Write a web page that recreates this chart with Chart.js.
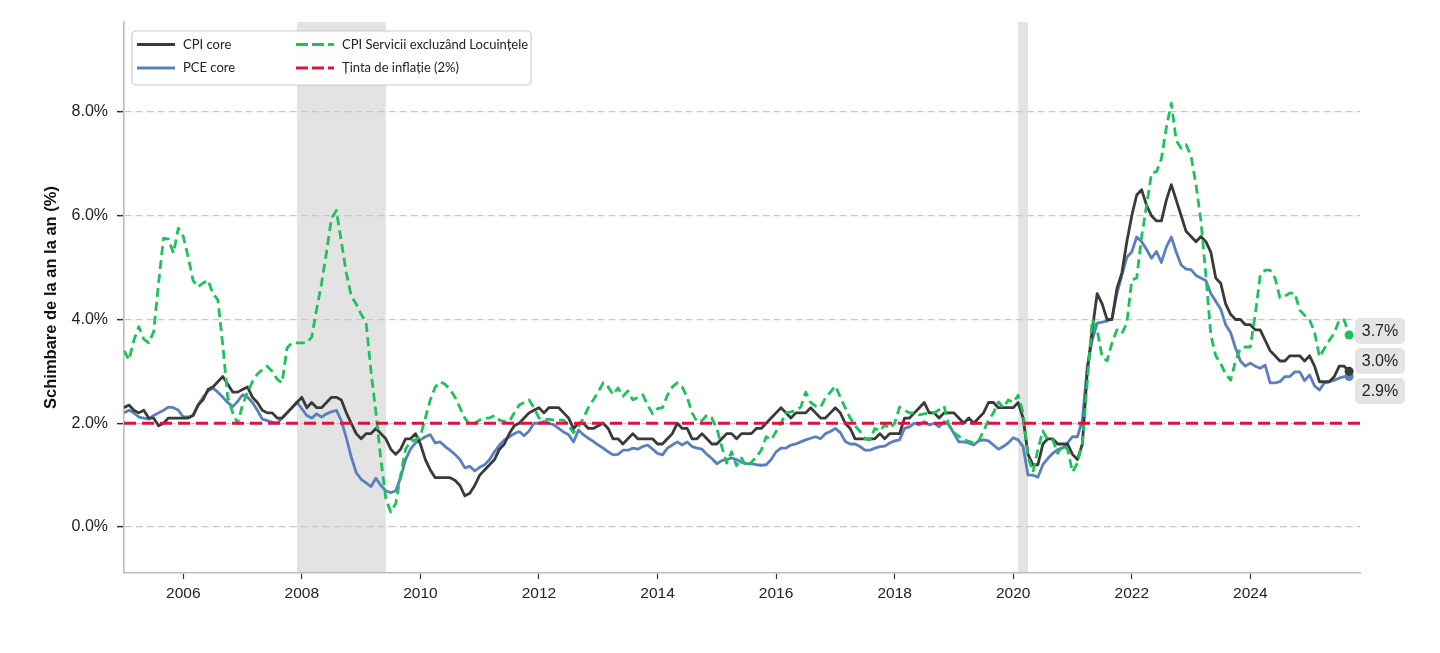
<!DOCTYPE html>
<html>
<head>
<meta charset="utf-8">
<script src="https://cdn.jsdelivr.net/npm/chart.js@4.4.1/dist/chart.umd.min.js"></script>
<style>
  html, body { margin: 0; padding: 0; background: #fff; }
  #wrap { width: 1440px; height: 653px; }
</style>
</head>
<body>
<div id="wrap"><canvas id="chart" width="1440" height="653"></canvas></div>
<script>
// monthly series, first value = January 2005
const START_YEAR = 2005;

const cpiCore = [
  2.3, 2.35, 2.25, 2.2, 2.25, 2.1, 2.1, 1.95, 2.0, 2.1, 2.1, 2.1,       // 2005
  2.1, 2.1, 2.15, 2.35, 2.45, 2.65, 2.7, 2.8, 2.9, 2.75, 2.6, 2.6,      // 2006
  2.65, 2.7, 2.5, 2.4, 2.25, 2.2, 2.2, 2.1, 2.1, 2.2, 2.3, 2.4,         // 2007
  2.5, 2.3, 2.4, 2.3, 2.3, 2.4, 2.5, 2.5, 2.45, 2.2, 2.0, 1.8,          // 2008
  1.7, 1.8, 1.8, 1.9, 1.8, 1.7, 1.5, 1.4, 1.5, 1.7, 1.7, 1.8,           // 2009
  1.6, 1.3, 1.1, 0.95, 0.95, 0.95, 0.95, 0.9, 0.8, 0.6, 0.65, 0.8,      // 2010
  1.0, 1.1, 1.2, 1.3, 1.5, 1.6, 1.8, 1.95, 2.0, 2.1, 2.2, 2.25,         // 2011
  2.3, 2.2, 2.3, 2.3, 2.3, 2.2, 2.1, 1.9, 2.0, 2.0, 1.9, 1.9,           // 2012
  1.95, 2.0, 1.9, 1.7, 1.7, 1.6, 1.7, 1.8, 1.7, 1.7, 1.7, 1.7,          // 2013
  1.6, 1.6, 1.7, 1.8, 2.0, 1.9, 1.9, 1.7, 1.7, 1.8, 1.7, 1.6,           // 2014
  1.6, 1.7, 1.8, 1.8, 1.7, 1.8, 1.8, 1.8, 1.9, 1.9, 2.0, 2.1,           // 2015
  2.2, 2.3, 2.2, 2.1, 2.2, 2.2, 2.2, 2.3, 2.2, 2.1, 2.1, 2.2,           // 2016
  2.3, 2.2, 2.0, 1.9, 1.7, 1.7, 1.7, 1.7, 1.7, 1.8, 1.7, 1.8,           // 2017
  1.8, 1.8, 2.1, 2.1, 2.2, 2.3, 2.4, 2.2, 2.2, 2.1, 2.2, 2.2,           // 2018
  2.2, 2.1, 2.0, 2.1, 2.0, 2.1, 2.2, 2.4, 2.4, 2.3, 2.3, 2.3,           // 2019
  2.3, 2.4, 2.1, 1.4, 1.2, 1.2, 1.6, 1.7, 1.7, 1.6, 1.6, 1.6,           // 2020
  1.4, 1.3, 1.6, 3.0, 3.8, 4.5, 4.3, 4.0, 4.0, 4.6, 4.9, 5.5,           // 2021
  6.0, 6.4, 6.5, 6.2, 6.0, 5.9, 5.9, 6.3, 6.6, 6.3, 6.0, 5.7,           // 2022
  5.6, 5.5, 5.6, 5.5, 5.3, 4.8, 4.7, 4.3, 4.1, 4.0, 4.0, 3.9,           // 2023
  3.9, 3.8, 3.8, 3.6, 3.4, 3.3, 3.2, 3.2, 3.3, 3.3, 3.3, 3.2,           // 2024
  3.3, 3.1, 2.8, 2.8, 2.8, 2.9, 3.1, 3.1, 3.0                           // 2025
];

const pceCore = [
  2.2, 2.25, 2.2, 2.12, 2.1, 2.08, 2.15, 2.2, 2.25, 2.31, 2.3, 2.25,    // 2005
  2.12, 2.12, 2.15, 2.35, 2.5, 2.62, 2.68, 2.6, 2.5, 2.4, 2.32, 2.42,   // 2006
  2.55, 2.5, 2.4, 2.25, 2.08, 2.05, 2.02, 2.0, 2.1, 2.2, 2.3, 2.41,     // 2007
  2.28, 2.15, 2.1, 2.18, 2.12, 2.18, 2.22, 2.25, 2.05, 1.72, 1.35, 1.05,// 2008
  0.92, 0.85, 0.78, 0.94, 0.8, 0.7, 0.66, 0.7, 0.95, 1.3, 1.5, 1.62,    // 2009
  1.68, 1.74, 1.78, 1.62, 1.64, 1.55, 1.48, 1.4, 1.3, 1.14, 1.17, 1.08, // 2010
  1.15, 1.2, 1.3, 1.45, 1.58, 1.68, 1.74, 1.8, 1.84, 1.76, 1.85, 2.0,   // 2011
  2.0, 2.03, 2.0, 1.97, 1.9, 1.83, 1.78, 1.64, 1.87, 1.78, 1.71, 1.65,  // 2012
  1.58, 1.52, 1.45, 1.39, 1.4, 1.48, 1.48, 1.52, 1.5, 1.55, 1.58, 1.5,  // 2013
  1.42, 1.39, 1.52, 1.58, 1.64, 1.58, 1.64, 1.55, 1.52, 1.5, 1.4, 1.32, // 2014
  1.22, 1.28, 1.3, 1.33, 1.3, 1.25, 1.22, 1.22, 1.2, 1.19, 1.2, 1.3,    // 2015
  1.45, 1.52, 1.52, 1.58, 1.6, 1.64, 1.68, 1.71, 1.74, 1.7, 1.8, 1.84,  // 2016
  1.9, 1.82, 1.65, 1.6, 1.6, 1.55, 1.48, 1.48, 1.52, 1.55, 1.56, 1.62,  // 2017
  1.66, 1.68, 1.9, 1.93, 2.0, 1.97, 2.03, 1.97, 2.0, 1.93, 2.03, 1.97,  // 2018
  1.8, 1.64, 1.64, 1.62, 1.58, 1.66, 1.68, 1.66, 1.58, 1.5, 1.55, 1.62, // 2019
  1.72, 1.68, 1.55, 1.0, 1.0, 0.96, 1.2, 1.32, 1.42, 1.49, 1.52, 1.62,  // 2020
  1.74, 1.74, 2.06, 3.1, 3.6, 3.93, 3.95, 3.97, 4.02, 4.5, 4.85, 5.2,   // 2021
  5.3, 5.59, 5.5, 5.35, 5.18, 5.31, 5.1, 5.4, 5.59, 5.3, 5.05, 4.97,    // 2022
  4.96, 4.85, 4.8, 4.75, 4.5, 4.35, 4.2, 3.9, 3.75, 3.45, 3.2, 3.1,     // 2023
  3.16, 3.1, 3.06, 3.12, 2.78, 2.78, 2.8, 2.9, 2.9, 2.99, 2.99, 2.82,   // 2024
  2.93, 2.72, 2.64, 2.78, 2.8, 2.83, 2.87, 2.9, 2.9                     // 2025
];

const cpiServices = [
  3.4, 3.22, 3.6, 3.86, 3.62, 3.55, 3.76, 4.7, 5.57, 5.55, 5.28, 5.76,  // 2005
  5.6, 5.2, 4.75, 4.63, 4.7, 4.76, 4.5, 4.38, 3.5, 2.5, 2.2, 2.0,       // 2006
  2.35, 2.6, 2.8, 2.95, 3.03, 3.1, 3.0, 2.85, 2.78, 3.45, 3.55, 3.55,   // 2007
  3.55, 3.55, 3.66, 4.2, 4.7, 5.3, 5.95, 6.1, 5.5, 4.9, 4.45, 4.3,      // 2008
  4.1, 3.95, 3.0, 2.2, 1.3, 0.55, 0.29, 0.45, 1.0, 1.5, 1.65, 1.68,     // 2009
  1.75, 2.1, 2.45, 2.7, 2.8, 2.75, 2.65, 2.5, 2.3, 2.1, 1.97, 2.0,      // 2010
  2.06, 2.1, 2.1, 2.15, 2.06, 2.03, 2.03, 2.2, 2.35, 2.4, 2.45, 2.3,    // 2011
  2.1, 2.06, 2.08, 2.06, 2.06, 2.06, 1.95, 1.82, 1.93, 2.1, 2.3, 2.45,  // 2012
  2.6, 2.78, 2.7, 2.55, 2.68, 2.52, 2.62, 2.45, 2.5, 2.55, 2.35, 2.18,  // 2013
  2.28, 2.3, 2.54, 2.7, 2.78, 2.7, 2.5, 2.2, 2.03, 2.05, 2.16, 2.1,     // 2014
  1.9, 1.55, 1.23, 1.45, 1.18, 1.33, 1.16, 1.25, 1.35, 1.48, 1.74, 1.68,// 2015
  1.84, 2.0, 2.2, 2.22, 2.25, 2.31, 2.6, 2.4, 2.33, 2.31, 2.49, 2.6,    // 2016
  2.72, 2.5, 2.3, 2.1, 1.95, 1.84, 1.7, 1.68, 1.9, 1.85, 1.97, 1.9,     // 2017
  2.0, 2.31, 2.25, 2.2, 2.2, 2.16, 2.18, 2.2, 2.2, 2.26, 2.33, 1.95,    // 2018
  1.82, 1.75, 1.68, 1.65, 1.62, 1.66, 1.85, 2.06, 2.2, 2.41, 2.3, 2.45, // 2019
  2.4, 2.54, 2.2, 1.35, 1.06, 1.5, 1.85, 1.68, 1.68, 1.42, 1.58, 1.5,   // 2020
  1.06, 1.23, 1.62, 2.8, 4.0, 3.8, 3.28, 3.2, 3.55, 3.8, 3.73, 3.93,    // 2021
  4.76, 4.8, 5.6, 6.2, 6.82, 6.85, 7.1, 7.7, 8.17, 7.45, 7.3, 7.37,     // 2022
  7.15, 6.6, 5.9, 4.85, 3.7, 3.3, 3.15, 2.95, 2.83, 3.2, 3.45, 3.47,    // 2023
  3.47, 4.1, 4.85, 4.95, 4.95, 4.8, 4.42, 4.45, 4.51, 4.51, 4.18, 4.08, // 2024
  3.99, 3.76, 3.28, 3.44, 3.6, 3.74, 3.99, 3.99, 3.7                    // 2025
];

const TARGET = 2;
const SERIES_NAMES = ['CPI core', 'PCE core', 'CPI Servicii excluzând Locuințele', 'Ținta de inflație (2%)'];
const YEAR_TICKS = [2006, 2008, 2010, 2012, 2014, 2016, 2018, 2020, 2022, 2024];
const Y_TICKS = [0, 2, 4, 6, 8];
const RECESSIONS = [['2007-12', '2009-06'], ['2020-02', '2020-04']];
const Y_TITLE = 'Schimbare de la an la an (%)';

const X_MIN = 2005, X_MAX = 2025.85;
const Y_MIN = -0.887, Y_MAX = 9.735;

const ym = s => { const p = s.split('-').map(Number); return p[0] + (p[1] - 1) / 12; };
const toPoints = arr => arr.map((v, i) => ({ x: START_YEAR + i / 12, y: v }));
const lastDot = ctx => ctx.dataIndex === ctx.dataset.data.length - 1 ? 4.5 : 0;

const FAMILY = 'Liberation Sans, Arial, sans-serif';

const recessionPlugin = {
  id: 'recessions',
  beforeDraw(chart) {
    const { ctx, chartArea, scales: { x } } = chart;
    ctx.save();
    ctx.fillStyle = '#e3e3e3';
    RECESSIONS.forEach(r => {
      const a = x.getPixelForValue(ym(r[0])), b = x.getPixelForValue(ym(r[1]));
      ctx.fillRect(a, chartArea.top, b - a, chartArea.bottom - chartArea.top);
    });
    ctx.restore();
  }
};

const legendPlugin = {
  id: 'boxLegend',
  afterDraw(chart) {
    const { ctx, chartArea } = chart;
    const bx = chartArea.left + 8, by = chartArea.top + 9, bw = 399, bh = 54;
    ctx.save();
    ctx.beginPath();
    ctx.roundRect(bx, by, bw, bh, 4);
    ctx.fillStyle = 'rgba(255,255,255,0.95)';
    ctx.fill();
    ctx.lineWidth = 1.2;
    ctx.strokeStyle = '#cccccc';
    ctx.stroke();
    const cols = [bx + 5, bx + 164];
    const rows = [by + 13.5, by + 37];
    ctx.font = '13px Lato, "Liberation Sans", sans-serif';
    ctx.textBaseline = 'middle';
    chart.data.datasets.forEach((ds, i) => {
      const cx = cols[Math.floor(i / 2)], cy = rows[i % 2];
      ctx.strokeStyle = ds.borderColor;
      ctx.lineWidth = ds.borderWidth;
      ctx.setLineDash(ds.borderDash && ds.borderDash.length ? [12, 4] : []);
      ctx.beginPath();
      ctx.moveTo(cx, cy);
      ctx.lineTo(cx + 38, cy);
      ctx.stroke();
      ctx.setLineDash([]);
      ctx.fillStyle = '#222';
      ctx.fillText(ds.label, cx + 46, cy);
    });
    ctx.restore();
  }
};

const endLabelPlugin = {
  id: 'endLabels',
  afterDatasetsDraw(chart) {
    const { ctx, chartArea, scales: { y } } = chart;
    const gap = 30;
    const items = chart.data.datasets.filter(ds => ds.endLabel).map(ds => {
      const v = ds.data[ds.data.length - 1].y;
      return { py: y.getPixelForValue(v), text: v.toFixed(1) + '%' };
    });
    items.sort((a, b) => a.py - b.py);
    let groups = items.map(it => ({ items: [it], center: it.py }));
    let merged = true;
    while (merged) {
      merged = false;
      for (let i = 0; i < groups.length - 1; i++) {
        const a = groups[i], b = groups[i + 1];
        const aBottom = a.center + (a.items.length - 1) * gap / 2;
        const bTop = b.center - (b.items.length - 1) * gap / 2;
        if (bTop - aBottom < gap) {
          const all = a.items.concat(b.items);
          const c = all.reduce((s, it) => s + it.py, 0) / all.length;
          groups.splice(i, 2, { items: all, center: c });
          merged = true;
          break;
        }
      }
    }
    ctx.save();
    ctx.font = '16px ' + FAMILY;
    ctx.textAlign = 'center';
    ctx.textBaseline = 'middle';
    groups.forEach(g => g.items.forEach((it, k) => {
      const ly = g.center + (k - (g.items.length - 1) / 2) * gap;
      const lx = chartArea.right - 5;
      ctx.beginPath();
      ctx.roundRect(lx, ly - 13, 50, 26, 5);
      ctx.fillStyle = '#e4e4e4';
      ctx.fill();
      ctx.fillStyle = '#222';
      ctx.fillText(it.text, lx + 25, ly + 1);
    }));
    ctx.restore();
  }
};

new Chart(document.getElementById('chart'), {
  type: 'line',
  data: {
    datasets: [
      {
        label: SERIES_NAMES[0], data: toPoints(cpiCore), endLabel: true,
        borderColor: '#3a3a3a', backgroundColor: '#3a3a3a', borderWidth: 2.8,
        pointRadius: lastDot, pointBorderWidth: 0, order: 2
      },
      {
        label: SERIES_NAMES[1], data: toPoints(pceCore), endLabel: true,
        borderColor: '#5b7fbd', backgroundColor: '#5b7fbd', borderWidth: 2.8,
        pointRadius: lastDot, pointBorderWidth: 0, order: 3
      },
      {
        label: SERIES_NAMES[2], data: toPoints(cpiServices), endLabel: true,
        borderColor: '#1ec15b', backgroundColor: '#1ec15b', borderWidth: 2.8,
        borderDash: [9, 5], pointRadius: lastDot, pointBorderWidth: 0, order: 1
      },
      {
        label: SERIES_NAMES[3], data: [{ x: X_MIN, y: TARGET }, { x: X_MAX, y: TARGET }],
        borderColor: '#dc143c', borderWidth: 2.8, borderDash: [12, 6],
        pointRadius: 0, order: 0
      }
    ]
  },
  options: {
    responsive: false,
    animation: false,
    layout: { padding: { top: 22, right: 80, left: 0, bottom: 0 } },
    plugins: { legend: { display: false }, tooltip: { enabled: false } },
    elements: { line: { tension: 0, borderCapStyle: 'butt', borderJoinStyle: 'round' } },
    scales: {
      x: {
        type: 'linear', min: X_MIN, max: X_MAX,
        afterBuildTicks: axis => { axis.ticks = YEAR_TICKS.map(v => ({ value: v })); },
        afterFit: scale => { scale.height = 80; },
        grid: { drawOnChartArea: false, drawTicks: true, tickLength: 6, tickColor: '#333', tickWidth: 1.2 },
        border: { display: true, color: '#bdbdbd', width: 1.6 },
        ticks: { font: { family: FAMILY, size: 15.5 }, color: '#222', padding: 5, maxRotation: 0, callback: v => String(v) }
      },
      y: {
        min: Y_MIN, max: Y_MAX,
        afterBuildTicks: axis => { axis.ticks = Y_TICKS.map(v => ({ value: v })); },
        afterFit: scale => { scale.width = 124; },
        grid: { color: '#c8c8c8', lineWidth: 1.3, drawTicks: true, tickLength: 7, tickColor: '#333', tickWidth: 1.5, tickBorderDash: [] },
        border: { display: true, color: '#bdbdbd', width: 1.6, dash: [7, 4] },
        ticks: { font: { family: FAMILY, size: 16 }, color: '#222', padding: 9, callback: v => v.toFixed(1) + '%' },
        title: {
          display: true, text: Y_TITLE, color: '#111',
          font: { family: FAMILY, size: 16.5, weight: 'bold' },
          padding: { top: 42, bottom: 0 }
        }
      }
    }
  },
  plugins: [recessionPlugin, legendPlugin, endLabelPlugin]
});
</script>
</body>
</html>
